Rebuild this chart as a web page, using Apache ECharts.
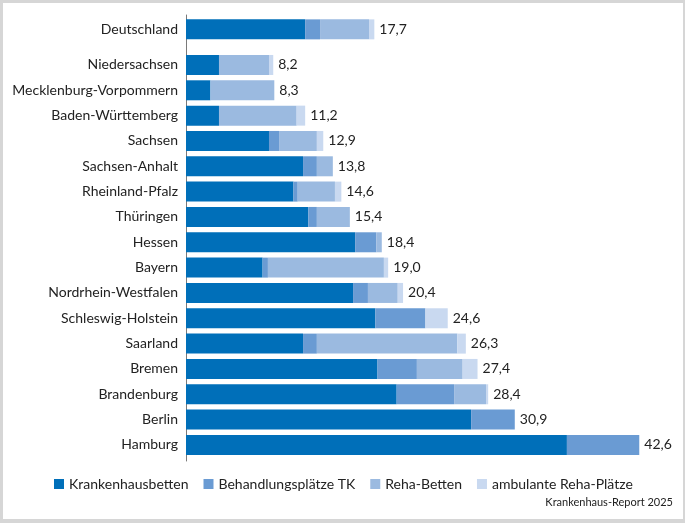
<!DOCTYPE html>
<html>
<head>
<meta charset="utf-8">
<script src="https://cdn.jsdelivr.net/npm/echarts@6/dist/echarts.min.js"></script>
<style>
  html, body { margin: 0; padding: 0; background: #d6d6d6; }
  #wrap { position: absolute; left: 0; top: 0; width: 685px; height: 523px; background: #d6d6d6; }
  #chart { position: absolute; left: 3px; top: 3px; width: 680px; height: 516px; background: #ffffff; }
</style>
</head>
<body>
<div id="wrap"><div id="chart"></div></div>
<script>
// ---- data ----
const totalCategory = ['Deutschland'];
const stateCategories = ['Niedersachsen', 'Mecklenburg-Vorpommern', 'Baden-Württemberg', 'Sachsen',
  'Sachsen-Anhalt', 'Rheinland-Pfalz', 'Thüringen', 'Hessen', 'Bayern', 'Nordrhein-Westfalen',
  'Schleswig-Holstein', 'Saarland', 'Bremen', 'Brandenburg', 'Berlin', 'Hamburg'];
const seriesNames = ['Krankenhausbetten', 'Behandlungsplätze TK', 'Reha-Betten', 'ambulante Reha-Plätze'];

const deKrankenhausbetten = [11.2];
const deBehandlungsplaetzeTK = [1.4];
const deRehaBetten = [4.6];
const deAmbulanteReha = [0.5];

const krankenhausbetten   = [3.1, 2.3, 3.1, 7.8, 11.0, 10.1, 11.5, 15.9, 7.2, 15.7, 17.8, 11.0, 18.0, 19.8, 26.8, 35.8];
const behandlungsplaetzeTK = [0,   0,   0,   1.0, 1.3,  0.4,  0.8,  2.0,  0.5, 1.4,  4.7,  1.3,  3.7,  5.4,  4.1,  6.8];
const rehaBetten          = [4.7, 6.0, 7.3, 3.5, 1.5,  3.5,  3.1,  0.5, 10.9, 2.8,  0,    13.2, 4.3,  3.0,  0,    0];
const ambulanteReha       = [0.4, 0,   0.8, 0.6, 0,    0.6,  0,    0,    0.4, 0.5,  2.1,  0.8,  1.4,  0.2,  0,    0];

const colors = ['#006fb9', '#6a9bd3', '#9bbae0', '#c9d9f0'];
const FONT = 'Lato';

function fmt(v) { return v.toFixed(1).replace('.', ','); }

const chart = echarts.init(document.getElementById('chart'), null, { renderer: 'canvas' });

const AXIS_LEFT = 183;
const GRID_W = 478.8;
const XMAX = 45;

function makeSeries(gridIdx, datasets) {
  const out = [];
  datasets.forEach((d, i) => {
    out.push({
      name: seriesNames[i], type: 'bar', stack: 's' + gridIdx,
      xAxisIndex: gridIdx, yAxisIndex: gridIdx,
      data: d, barWidth: 20, itemStyle: { color: colors[i] },
      emphasis: { disabled: true }, silent: true
    });
  });
  const totals = datasets[0].map((_, k) => datasets.reduce((s, d) => s + d[k], 0));
  out.push({
    name: 'Summe', type: 'bar', stack: 's' + gridIdx,
    xAxisIndex: gridIdx, yAxisIndex: gridIdx,
    data: totals.map(() => 0), barWidth: 20, itemStyle: { color: 'transparent' },
    label: {
      show: true, position: 'right', distance: 5,
      fontFamily: FONT, fontSize: 14, color: '#222',
      formatter: p => fmt(totals[p.dataIndex])
    },
    silent: true
  });
  return out;
}

const catAxisCommon = {
  type: 'category', inverse: true,
  axisLine: { show: false }, axisTick: { show: false },
  axisLabel: { fontFamily: FONT, fontSize: 14, color: '#222', margin: 8 }
};
const valAxisCommon = { type: 'value', min: 0, max: XMAX, show: false, splitLine: { show: false } };

chart.setOption({
  animation: false,
  textStyle: { fontFamily: FONT },
  grid: [
    { left: AXIS_LEFT, width: GRID_W, top: 13.7, height: 25.33 },
    { left: AXIS_LEFT, width: GRID_W, top: 49.3, height: 405.3 },
    { left: AXIS_LEFT, width: GRID_W, top: 12, height: 446 }
  ],
  xAxis: [
    Object.assign({ gridIndex: 0 }, valAxisCommon),
    Object.assign({ gridIndex: 1 }, valAxisCommon),
    Object.assign({ gridIndex: 2 }, valAxisCommon)
  ],
  yAxis: [
    Object.assign({ gridIndex: 0, data: totalCategory }, catAxisCommon),
    Object.assign({ gridIndex: 1, data: stateCategories }, catAxisCommon),
    { gridIndex: 2, type: 'value', min: 0, max: 1,
      axisLine: { show: true, lineStyle: { color: '#7a7a7a', width: 1 } },
      axisTick: { show: false }, axisLabel: { show: false }, splitLine: { show: false } }
  ],
  legend: {
    data: seriesNames, left: 51, top: 474, padding: 0,
    icon: 'rect', itemWidth: 10, itemHeight: 10, itemGap: 15,
    textStyle: { fontFamily: FONT, fontSize: 14, color: '#222' },
    selectedMode: false
  },
  graphic: [{
    type: 'text', right: 10, top: 494,
    style: { text: 'Krankenhaus-Report 2025', font: '11px Lato', fill: '#222' }
  }],
  series: [
    ...makeSeries(0, [deKrankenhausbetten, deBehandlungsplaetzeTK, deRehaBetten, deAmbulanteReha]),
    ...makeSeries(1, [krankenhausbetten, behandlungsplaetzeTK, rehaBetten, ambulanteReha])
  ]
});
</script>
</body>
</html>
